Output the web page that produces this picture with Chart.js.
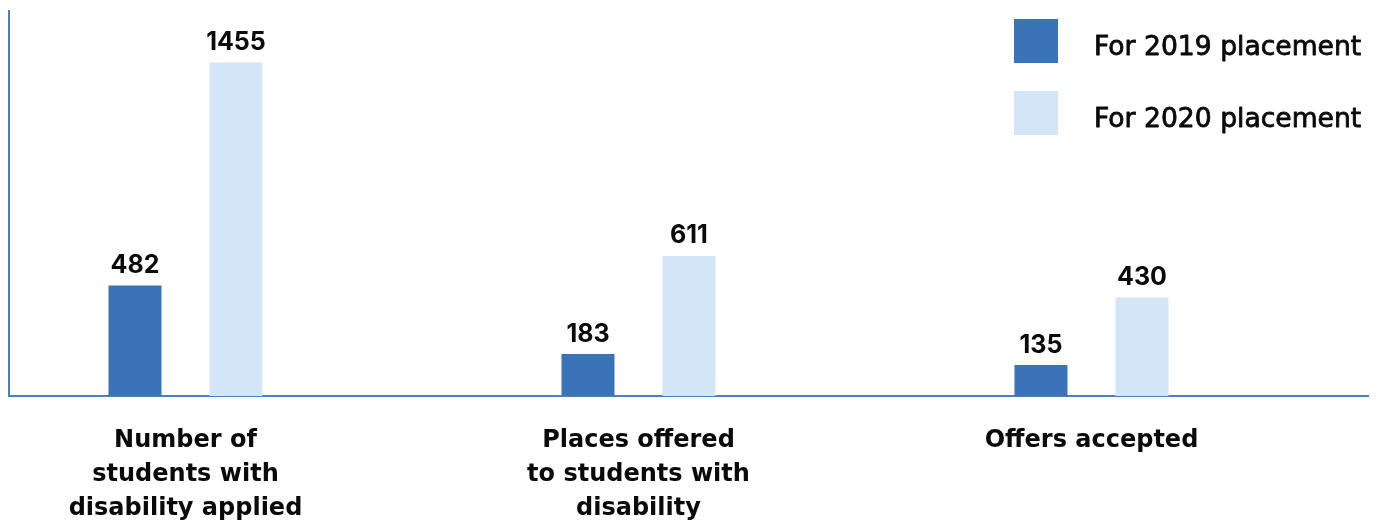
<!DOCTYPE html>
<html>
<head>
<meta charset="utf-8">
<script src="https://cdn.jsdelivr.net/npm/chart.js@4/dist/chart.umd.min.js"></script>
<style>html,body{margin:0;padding:0;background:#fff;}canvas{display:block;}</style>
</head>
<body>
<canvas id="c" width="1384" height="520"></canvas>
<script>
const categories = [
  ['Number of', 'students with', 'disability applied'],
  ['Places offered', 'to students with', 'disability'],
  ['Offers accepted']
];
const seriesNames = ['For 2019 placement', 'For 2020 placement'];
const values2019 = [482, 183, 135];
const values2020 = [1455, 611, 430];
const colors = ['#3a73b8', '#d3e6f8'];
const axisColor = '#4a7fc2';

const valueLabels = {
  id: 'valueLabels',
  afterDatasetsDraw(chart) {
    const ctx = chart.ctx;
    ctx.save();
    ctx.font = 'bold 25px Inter';
    ctx.fillStyle = '#0a0a0a';
    ctx.textAlign = 'center';
    ctx.textBaseline = 'alphabetic';
    chart.data.datasets.forEach((ds, di) => {
      chart.getDatasetMeta(di).data.forEach((bar, i) => {
        ctx.fillText(String(ds.data[i].y), bar.x, bar.y - 12.5);
      });
    });
    ctx.restore();
  }
};

const sideLegend = {
  id: 'sideLegend',
  afterDraw(chart) {
    const ctx = chart.ctx;
    const a = chart.chartArea;
    const x0 = a.right - 354;
    ctx.save();
    ctx.font = '26.6px "DejaVu Sans"';
    ctx.textBaseline = 'alphabetic';
    ctx.textAlign = 'left';
    ctx.lineWidth = 0.8;
    ctx.lineJoin = 'round';
    chart.data.datasets.forEach((ds, i) => {
      const y0 = a.top + 8 + i * 72;
      ctx.fillStyle = ds.backgroundColor;
      ctx.fillRect(x0, y0, 44, 44);
      ctx.fillStyle = '#0a0a0a';
      ctx.strokeStyle = '#0a0a0a';
      ctx.fillText(ds.label, x0 + 80, y0 + 36);
      ctx.strokeText(ds.label, x0 + 80, y0 + 36);
    });
    ctx.restore();
  }
};

new Chart(document.getElementById('c'), {
  type: 'bar',
  data: {
    datasets: [
      { label: seriesNames[0], data: values2019.map((v, i) => ({x: i, y: v})), backgroundColor: colors[0] },
      { label: seriesNames[1], data: values2020.map((v, i) => ({x: i, y: v})), backgroundColor: colors[1] }
    ]
  },
  options: {
    responsive: false,
    animation: false,
    devicePixelRatio: 1,
    layout: { padding: { top: 11, right: 16, left: 0, bottom: 0 } },
    datasets: { bar: { categoryPercentage: 0.4459, barPercentage: 0.5248 } },
    plugins: { legend: { display: false }, tooltip: { enabled: false } },
    scales: {
      x: {
        type: 'linear',
        offset: false,
        min: -0.3896,
        max: 2.6104,
        grid: { display: false, drawTicks: false, offset: false },
        border: { display: true, color: axisColor, width: 2 },
        afterBuildTicks(scale) { scale.ticks = categories.map((c, i) => ({ value: i })); },
        afterFit(scale) { scale.height = 124; },
        ticks: {
          autoSkip: false,
          maxRotation: 0,
          padding: 28,
          color: '#0a0a0a',
          font: { family: 'DejaVu Sans', weight: 'bold', size: 24, lineHeight: 34 / 24 },
          callback: (v) => categories[v]
        }
      },
      y: {
        type: 'linear',
        min: 0,
        max: 1680,
        grid: { display: false, drawTicks: false },
        border: { display: true, color: axisColor, width: 2 },
        ticks: { display: false },
        afterFit(scale) { scale.width = 9; }
      }
    }
  },
  plugins: [valueLabels, sideLegend]
});
</script>
</body>
</html>
